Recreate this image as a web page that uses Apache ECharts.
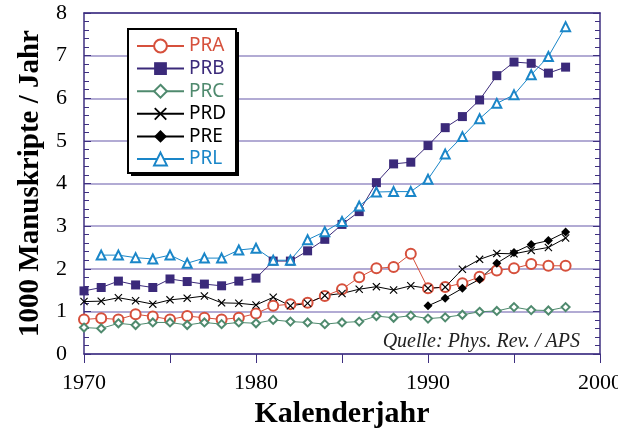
<!DOCTYPE html>
<html>
<head>
<meta charset="utf-8">
<script src="https://cdn.jsdelivr.net/npm/echarts@6/dist/echarts.min.js"></script>
<style>
  html, body { margin: 0; padding: 0; background: #fff; }
  #main { width: 618px; height: 431px; }
</style>
</head>
<body>
<div id="main"></div>
<script>
var myChart = echarts.init(document.getElementById('main'));

var years = [1970,1971,1972,1973,1974,1975,1976,1977,1978,1979,1980,1981,1982,1983,1984,
             1985,1986,1987,1988,1989,1990,1991,1992,1993,1994,1995,1996,1997,1998];
var PRA = [0.81,0.84,0.81,0.93,0.88,0.81,0.89,0.85,0.81,0.85,0.95,1.13,1.17,1.20,1.36,
           1.52,1.80,2.01,2.04,2.35,1.54,1.57,1.66,1.81,1.96,2.01,2.11,2.07,2.07];
var PRB = [1.48,1.56,1.71,1.62,1.56,1.76,1.70,1.64,1.60,1.71,1.78,2.18,2.18,2.42,2.69,
           3.04,3.34,4.02,4.46,4.50,4.89,5.31,5.57,5.96,6.53,6.85,6.82,6.59,6.73];
var PRC = [0.62,0.60,0.72,0.68,0.74,0.74,0.68,0.74,0.70,0.74,0.72,0.80,0.76,0.74,0.70,
           0.74,0.76,0.89,0.85,0.90,0.83,0.86,0.92,0.99,1.01,1.10,1.03,1.02,1.10];
var PRD = [1.23,1.24,1.32,1.25,1.17,1.27,1.31,1.36,1.20,1.19,1.15,1.33,1.13,1.19,1.37,
           1.42,1.52,1.58,1.50,1.60,1.54,1.57,1.99,2.22,2.36,2.35,2.43,2.50,2.72];
var PRE = [null,null,null,null,null,null,null,null,null,null,null,null,null,null,null,
           null,null,null,null,null,1.13,1.31,1.54,1.75,2.13,2.38,2.57,2.66,2.86];
var PRL = [null,2.32,2.32,2.26,2.23,2.32,2.13,2.25,2.25,2.44,2.48,2.20,2.20,2.68,2.87,
           3.11,3.47,3.80,3.81,3.81,4.10,4.69,5.10,5.52,5.88,6.08,6.55,6.98,7.68];

var yearLabels = [1970, 1980, 1990, 2000];

var axisColor = '#3e2f80';
var gridColor = '#b2abd4';
var crossPath = 'path://M0,1L1,0L5,4L9,0L10,1L6,5L10,9L9,10L5,6L1,10L0,9L4,5Z';

function pairs(vals) {
    return years.map(function (y, i) { return [y, vals[i]]; });
}

function mkSeries(name, vals, color, symbol, size) {
    return {
        name: name,
        type: 'line',
        data: pairs(vals),
        symbol: symbol,
        symbolSize: size,
        showSymbol: true,
        lineStyle: { color: color, width: 1 },
        itemStyle: { color: color, borderWidth: 1 },
        emphasis: { disabled: true },
        animation: false
    };
}

option = {
    backgroundColor: '#fff',
    grid: { left: 84, right: 18, top: 13, bottom: 77, outerBoundsMode: 'none' },
    legend: {
        orient: 'vertical',
        left: 128,
        top: 31,
        padding: [5, 8, 5, 8],
        itemWidth: 47,
        itemHeight: 16,
        itemGap: 2.6,
        z: 10,
        textStyle: { fontFamily: 'Noto Sans', fontSize: 19, lineHeight: 20 },
        data: [
            { name: 'PRA', textStyle: { color: '#d6503c' } },
            { name: 'PRB', textStyle: { color: '#3b2a7a' } },
            { name: 'PRC', textStyle: { color: '#4f8a6e' } },
            { name: 'PRD', textStyle: { color: '#000' } },
            { name: 'PRE', textStyle: { color: '#000' } },
            { name: 'PRL', textStyle: { color: '#1a86c8' } }
        ]
    },
    xAxis: [{
        type: 'value',
        min: 1970,
        max: 2000,
        interval: 10,
        axisLine: { lineStyle: { color: axisColor, width: 1.5 } },
        axisTick: { inside: false, length: 9, lineStyle: { color: axisColor } },
        minorTick: { show: true, splitNumber: 2, length: 9, lineStyle: { color: axisColor } },
        splitLine: { show: false },
        axisLabel: {
            margin: 18,
            fontFamily: 'Liberation Serif',
            fontSize: 22,
            color: '#000',
            formatter: function (v) { return yearLabels.indexOf(v) >= 0 ? String(v) : ''; }
        },
        name: 'Kalenderjahr',
        nameLocation: 'middle',
        nameGap: 44,
        nameTextStyle: { fontFamily: 'Liberation Serif', fontWeight: 'bold', fontSize: 30, color: '#000' }
    }, {
        type: 'value',
        position: 'top',
        min: 1970,
        max: 2000,
        axisLine: { show: true, onZero: false, lineStyle: { color: axisColor, width: 1.5 } },
        axisTick: { show: false },
        axisLabel: { show: false },
        splitLine: { show: false }
    }],
    yAxis: [{
        type: 'value',
        min: 0,
        max: 8,
        interval: 1,
        axisLine: { show: true, lineStyle: { color: axisColor, width: 1.5 } },
        axisTick: { show: true, inside: true, length: 7, lineStyle: { color: axisColor } },
        minorTick: { show: true, splitNumber: 5, length: 5, lineStyle: { color: axisColor } },
        splitLine: { show: true, lineStyle: { color: gridColor, width: 2 } },
        axisLabel: { margin: 17, fontFamily: 'Liberation Serif', fontSize: 22, color: '#000' },
        name: '1000 Manuskripte / Jahr',
        nameLocation: 'middle',
        nameGap: 39,
        nameTextStyle: { fontFamily: 'Liberation Serif', fontWeight: 'bold', fontSize: 29, color: '#000' }
    }, {
        type: 'value',
        position: 'right',
        min: 0,
        max: 8,
        interval: 1,
        axisLine: { show: true, onZero: false, lineStyle: { color: axisColor, width: 1.5 } },
        axisTick: { show: true, inside: true, length: 7, lineStyle: { color: axisColor } },
        minorTick: { show: true, splitNumber: 5, length: 5, lineStyle: { color: axisColor } },
        splitLine: { show: false },
        axisLabel: { show: false }
    }],
    graphic: [{
        // legend frame shadow
        type: 'rect',
        z: 8,
        shape: { x: 131, y: 32, width: 108, height: 144 },
        style: { fill: '#000' }
    }, {
        // legend frame
        type: 'rect',
        z: 9,
        shape: { x: 128, y: 29, width: 108, height: 144 },
        style: { fill: '#fff', stroke: '#000', lineWidth: 2 }
    }, {
        type: 'text',
        right: 38,
        top: 332,
        style: {
            text: 'Quelle: Phys. Rev. / APS',
            font: 'italic 20px "Liberation Serif"',
            fill: '#222'
        }
    }],
    series: [
        mkSeries('PRA', PRA, '#d6503c', 'emptyCircle', 10),
        mkSeries('PRB', PRB, '#3b2a7a', 'rect', 9),
        mkSeries('PRC', PRC, '#4f8a6e', 'emptyDiamond', 8),
        mkSeries('PRD', PRD, '#000000', crossPath, 8),
        mkSeries('PRE', PRE, '#000000', 'diamond', 9),
        mkSeries('PRL', PRL, '#1a86c8', 'emptyTriangle', 9)
    ]
};

myChart.setOption(option);
</script>
</body>
</html>
